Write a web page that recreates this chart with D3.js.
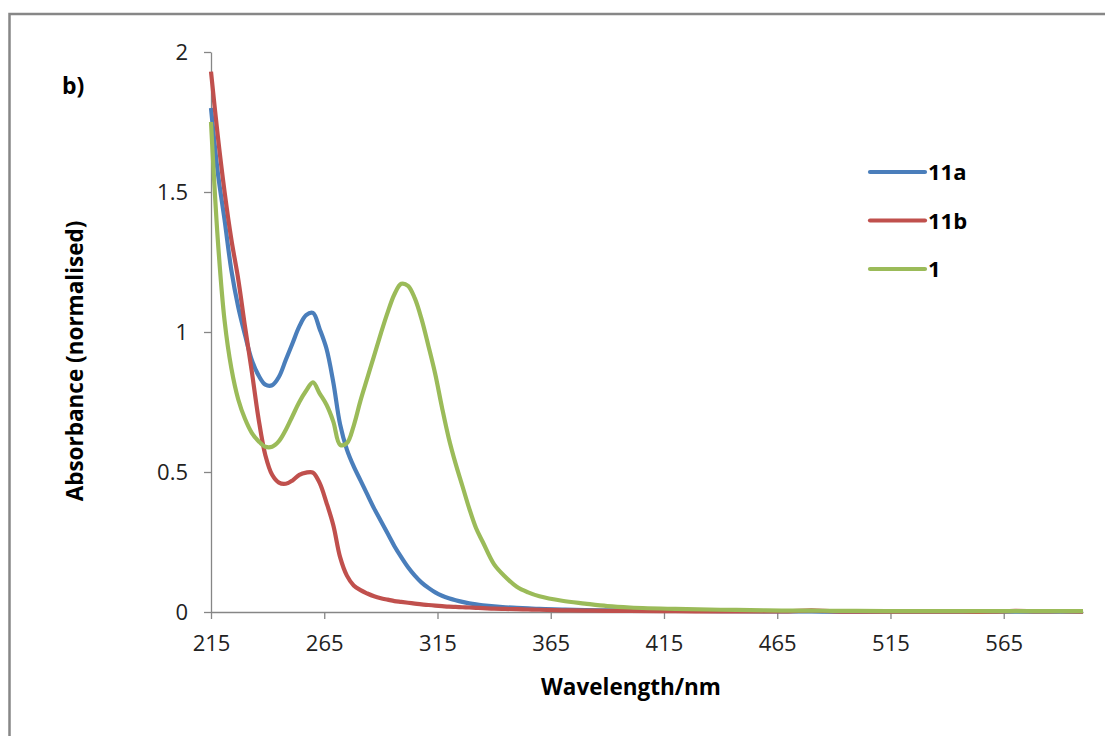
<!DOCTYPE html>
<html lang="en">
<head>
    <meta charset="UTF-8">
    <title>Absorbance spectra b)</title>
    <style>
        body {
            margin: 0;
            background: #fff;
        }
        svg {
            display: block;
            font-family: "Open Sans", sans-serif;
        }
        .axis-label {
            font-size: 22.5px;
            font-weight: bold;
        }
        .legend-item text {
            font-size: 22px;
            font-weight: bold;
        }
    </style>
    <script src="https://d3js.org/d3.v7.min.js"></script>
</head>
<body>
    <svg id="chart" width="1105" height="736"></svg>
    <script>
        // wavelength grid (nm) shared by all three spectra
        const wavelengths = [215, 218, 221, 224, 227, 230, 233, 236, 239, 242, 245, 248, 251, 254, 257, 260,
            263, 266, 269, 272, 275, 278, 281, 284, 287, 290, 293, 296, 299, 302, 305, 308, 311, 314, 317,
            320, 323, 326, 329, 332, 335, 340, 345, 350, 355, 360, 370, 380, 390, 400, 420, 440, 460, 470,
            480, 490, 500, 520, 540, 560, 570, 580, 590, 600];

        const abs11a = [1.80, 1.57, 1.40, 1.22, 1.09, 0.99, 0.90, 0.845, 0.812, 0.81, 0.84, 0.90, 0.96, 1.02, 1.06, 1.068,
            1.01, 0.94, 0.82, 0.67, 0.58, 0.52, 0.47, 0.42, 0.37, 0.325, 0.28, 0.235, 0.196, 0.16, 0.13, 0.105, 0.086, 0.07, 0.058,
            0.049, 0.042, 0.036, 0.031, 0.027, 0.024, 0.02, 0.017, 0.015, 0.013, 0.011, 0.009, 0.007, 0.006, 0.005, 0.004, 0.003, 0.002, 0.002,
            0.002, 0.001, 0.001, 0.001, 0.001, 0.001, 0.001, 0.001, 0.001, 0.001];

        const abs11b = [1.93, 1.70, 1.50, 1.33, 1.19, 1.02, 0.86, 0.69, 0.56, 0.49, 0.462, 0.458, 0.47, 0.49, 0.498, 0.498,
            0.46, 0.39, 0.31, 0.196, 0.13, 0.095, 0.078, 0.066, 0.056, 0.049, 0.044, 0.039, 0.036, 0.033, 0.03, 0.027, 0.025, 0.023, 0.021,
            0.019, 0.018, 0.017, 0.016, 0.015, 0.014, 0.012, 0.011, 0.01, 0.009, 0.008, 0.006, 0.005, 0.004, 0.004, 0.003, 0.002, 0.002, 0.002,
            0.006, 0.002, 0.001, 0.001, 0.001, 0.001, 0.004, 0.002, 0.003, 0.001];

        const abs1 = [1.75, 1.33, 1.04, 0.87, 0.76, 0.69, 0.64, 0.61, 0.59, 0.59, 0.61, 0.65, 0.70, 0.75, 0.79, 0.82,
            0.78, 0.74, 0.68, 0.597, 0.603, 0.665, 0.755, 0.835, 0.915, 0.995, 1.07, 1.135, 1.172, 1.165, 1.12, 1.045, 0.95, 0.85, 0.73,
            0.62, 0.53, 0.45, 0.37, 0.30, 0.25, 0.17, 0.125, 0.09, 0.07, 0.056, 0.04, 0.03, 0.021, 0.016, 0.011, 0.008, 0.006, 0.005,
            0.005, 0.004, 0.004, 0.003, 0.003, 0.003, 0.003, 0.003, 0.003, 0.003];

        const seriesNames = ["11a", "11b", "1"];
        const seriesColors = ["#4a7ebb", "#c0504d", "#9bbb59"];
        const xTicks = [215, 265, 315, 365, 415, 465, 515, 565];
        const yTicks = [0, 0.5, 1, 1.5, 2];

        const svg = d3.select("#chart");
        const plot = { left: 211, right: 1083, top: 52, bottom: 612 };

        // outer frame (runs off the right and bottom of the picture)
        svg.append("rect")
            .attr("x", 9.5)
            .attr("y", 14)
            .attr("width", 1200)
            .attr("height", 800)
            .attr("fill", "none")
            .attr("stroke", "#878787")
            .attr("stroke-width", 2.5);

        const x = d3.scaleLinear().domain([215, 600]).range([plot.left, plot.right]);
        const y = d3.scaleLinear().domain([0, 2]).range([plot.bottom, plot.top]);

        const xAxis = svg.append("g")
            .attr("transform", `translate(0,${plot.bottom})`)
            .call(d3.axisBottom(x).tickValues(xTicks).tickSize(7).tickPadding(16).tickSizeOuter(0));

        const yAxis = svg.append("g")
            .attr("transform", `translate(${plot.left},0)`)
            .call(d3.axisLeft(y).tickValues(yTicks).tickFormat(d => String(d)).tickSize(7).tickPadding(16).tickSizeOuter(0));

        [xAxis, yAxis].forEach(g => {
            g.attr("font-family", null).attr("font-size", null);
            g.select(".domain").attr("stroke", "#868686").attr("stroke-width", 1.3);
            g.selectAll(".tick line").attr("stroke", "#868686").attr("stroke-width", 1.3);
            g.selectAll(".tick text")
                .attr("font-size", 22)
                .attr("fill", "#222");
        });

        const lines = [abs11a, abs11b, abs1];
        const line = d3.line()
            .x(d => x(d[0]))
            .y(d => y(d[1]))
            .curve(d3.curveCatmullRom.alpha(0.5));

        lines.forEach((vals, i) => {
            svg.append("path")
                .datum(wavelengths.map((w, j) => [w, vals[j]]))
                .attr("fill", "none")
                .attr("stroke", seriesColors[i])
                .attr("stroke-width", 4.2)
                .attr("stroke-linejoin", "round")
                .attr("d", line);
        });

        svg.append("text")
            .attr("class", "axis-label")
            .attr("x", 631)
            .attr("y", 695)
            .attr("text-anchor", "middle")
            .text("Wavelength/nm");

        svg.append("text")
            .attr("class", "axis-label")
            .attr("transform", "translate(83,361) rotate(-90)")
            .attr("text-anchor", "middle")
            .text("Absorbance (normalised)");

        svg.append("text")
            .attr("x", 62)
            .attr("y", 94)
            .attr("font-size", 23)
            .attr("font-weight", "bold")
            .text("b)");

        const legend = svg.append("g");
        const items = legend.selectAll(".legend-item")
            .data(seriesNames)
            .enter().append("g")
            .attr("class", "legend-item")
            .attr("transform", (d, i) => `translate(870, ${172 + i * 48.5})`);

        items.append("line")
            .attr("x1", 0).attr("x2", 55)
            .attr("stroke", (d, i) => seriesColors[i])
            .attr("stroke-width", 4.2)
            .attr("stroke-linecap", "round");

        items.append("text")
            .attr("x", 58)
            .attr("y", 8)
            .text(d => d);
    </script>
</body>
</html>
